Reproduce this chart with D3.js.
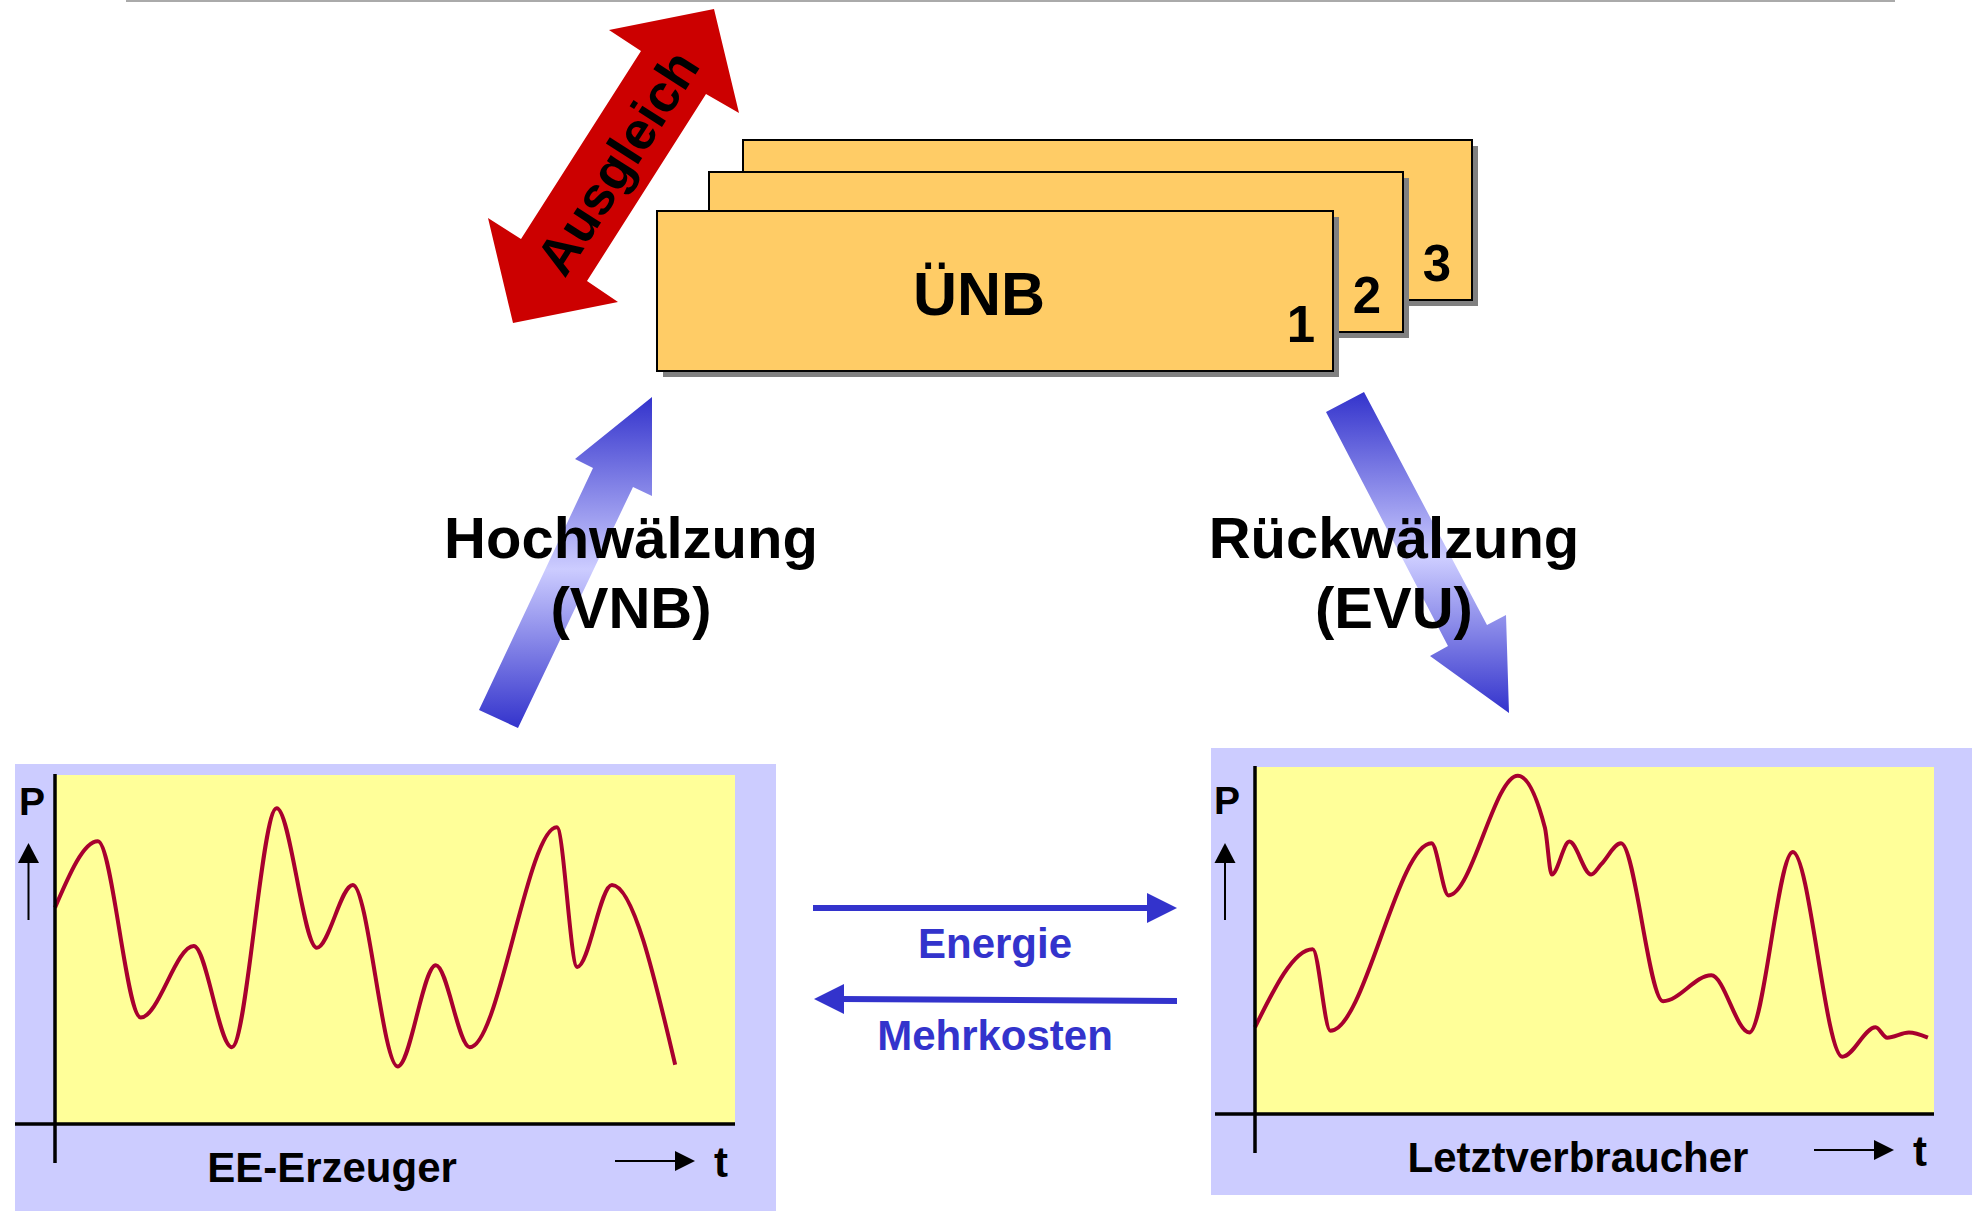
<!DOCTYPE html>
<html>
<head>
<meta charset="utf-8">
<script src="https://cdn.jsdelivr.net/npm/d3@7"></script>
<style>
  body { margin: 0; background: #fff; }
  svg { display: block; }
  text { font-family: "Liberation Sans", Arial, sans-serif; font-weight: bold; }
</style>
</head>
<body>
<div id="chart"></div>
<script>
var svgWidth = 1972;
var svgHeight = 1211;

// generation profile (t and P in % of the plot area)
var genTime  = [0, 6.3, 12.6, 20.4, 26.0, 32.6, 38.5, 43.8, 50.4, 56.0, 61.0, 73.8, 76.8, 81.9, 91.2];
var genPower = [62, 81, 30.5, 51, 22, 90.5, 50.5, 68.5, 16.5, 45.5, 22, 85, 45, 68.5, 17];

// consumer load profile
var loadTime  = [0, 8.5, 11.1, 26.0, 28.5, 38.7, 42.7, 43.7, 46.3, 49.5, 51.0, 53.9, 60.1, 67.2, 72.8, 79.2, 86.5, 91.4, 93.1, 96.3, 99.1];
var loadPower = [25, 47.5, 24, 78, 63, 97.5, 82.5, 69, 78.5, 69, 72, 78, 32.5, 40, 23.5, 75.5, 16.5, 25, 22, 23.5, 22];

var boxNumbers = ["3", "2", "1"];
var boxTitle = "ÜNB";
var panelTitles = ["EE-Erzeuger", "Letztverbraucher"];
var flowLabels = ["Energie", "Mehrkosten"];
var upLabel = ["Hochwälzung", "(VNB)"];
var downLabel = ["Rückwälzung", "(EVU)"];
var balanceLabel = "Ausgleich";

var dark = "#3333cc";
var curveColor = "#a8002e";

var svg = d3.select("#chart")
  .append("svg")
  .attr("width", svgWidth)
  .attr("height", svgHeight);

var defs = svg.append("defs");
var grad = defs.append("linearGradient")
  .attr("id", "blueFade")
  .attr("x1", 0).attr("y1", 0).attr("x2", 0).attr("y2", 1);
grad.append("stop").attr("offset", "0%").attr("stop-color", dark);
grad.append("stop").attr("offset", "52%").attr("stop-color", "#ccccff");
grad.append("stop").attr("offset", "100%").attr("stop-color", dark);

// thin rule at the very top
svg.append("line")
  .attr("x1", 126).attr("x2", 1895)
  .attr("y1", 1).attr("y2", 1)
  .attr("stroke", "#aaaaaa")
  .attr("stroke-width", 2);

var poly = d3.line().curve(d3.curveLinearClosed);

// red double arrow "Ausgleich"
svg.append("path")
  .attr("d", poly([[714, 9], [739, 113], [706, 94], [587, 281], [618, 302], [513, 323],
                   [488, 218], [521, 239], [641, 51], [609, 30]]))
  .attr("fill", "#cc0000");

svg.append("text")
  .attr("transform", "translate(617,162) rotate(-57.4)")
  .attr("text-anchor", "middle")
  .attr("dy", "0.36em")
  .attr("font-size", 53)
  .attr("fill", "#000")
  .text(balanceLabel);

// stacked ÜNB cards
var boxes = [
  { x: 743, y: 140, w: 729, h: 160, nx: 1437, ny: 281 },
  { x: 709, y: 172, w: 694, h: 160, nx: 1367, ny: 313 },
  { x: 657, y: 211, w: 676, h: 160, nx: 1301, ny: 342 }
];

boxes.forEach(function (b, i) {
  svg.append("rect")
    .attr("x", b.x + 6).attr("y", b.y + 6)
    .attr("width", b.w).attr("height", b.h)
    .attr("fill", "#808080");
  svg.append("rect")
    .attr("x", b.x).attr("y", b.y)
    .attr("width", b.w).attr("height", b.h)
    .attr("fill", "#ffcc66")
    .attr("stroke", "#000")
    .attr("stroke-width", 2);
  svg.append("text")
    .attr("x", b.nx).attr("y", b.ny)
    .attr("text-anchor", "middle")
    .attr("font-size", 51)
    .text(boxNumbers[i]);
});

svg.append("text")
  .attr("x", 979).attr("y", 315)
  .attr("text-anchor", "middle")
  .attr("font-size", 61)
  .text(boxTitle);

// blue gradient arrows
svg.append("path")
  .attr("d", poly([[652, 397], [652, 496], [633, 487], [518, 728], [479, 710], [593, 468], [575, 459]]))
  .attr("fill", "url(#blueFade)");

svg.append("path")
  .attr("d", poly([[1364, 392], [1326, 412], [1448, 646], [1430, 656], [1509, 713], [1506, 615], [1487, 625]]))
  .attr("fill", "url(#blueFade)");

function twoLines(lines, cx, y0) {
  lines.forEach(function (s, i) {
    svg.append("text")
      .attr("x", cx).attr("y", y0 + i * 70)
      .attr("text-anchor", "middle")
      .attr("font-size", 58)
      .text(s);
  });
}
twoLines(upLabel, 631, 558);
twoLines(downLabel, 1394, 558);

// panels
var panels = [
  { bg: [15, 764, 776, 1211], x: [55, 735], y: [1124, 775], axisLeft: 15, axisBottom: 1163,
    t: genTime, p: genPower, title: panelTitles[0], titleX: 332, titleY: 1182,
    arrowX: [615, 695], arrowY: 1161, pX: 32, pY: 815, upX: 28.5 },
  { bg: [1211, 748, 1972, 1195], x: [1255, 1934], y: [1114, 767], axisLeft: 1215, axisBottom: 1153,
    t: loadTime, p: loadPower, title: panelTitles[1], titleX: 1578, titleY: 1172,
    arrowX: [1814, 1894], arrowY: 1150, pX: 1227, pY: 814, upX: 1225 }
];

panels.forEach(function (pn) {
  var g = svg.append("g");
  g.append("rect")
    .attr("x", pn.bg[0]).attr("y", pn.bg[1])
    .attr("width", pn.bg[2] - pn.bg[0]).attr("height", pn.bg[3] - pn.bg[1])
    .attr("fill", "#ccccff");

  var x = d3.scaleLinear().domain([0, 100]).range(pn.x);
  var y = d3.scaleLinear().domain([0, 100]).range(pn.y);

  g.append("rect")
    .attr("x", x(0)).attr("y", y(100))
    .attr("width", x(100) - x(0)).attr("height", y(0) - y(100))
    .attr("fill", "#ffff99");

  var pts = pn.t.map(function (t, i) { return [t, pn.p[i]]; });
  g.append("path")
    .datum(pts)
    .attr("fill", "none")
    .attr("stroke", curveColor)
    .attr("stroke-width", 4)
    .attr("d", d3.line()
      .x(function (d) { return x(d[0]); })
      .y(function (d) { return y(d[1]); })
      .curve(d3.curveMonotoneX));

  // axes
  g.append("line")
    .attr("x1", pn.axisLeft).attr("x2", x(100))
    .attr("y1", y(0)).attr("y2", y(0))
    .attr("stroke", "#000").attr("stroke-width", 3.5);
  g.append("line")
    .attr("x1", x(0)).attr("x2", x(0))
    .attr("y1", y(100) - 1).attr("y2", pn.axisBottom)
    .attr("stroke", "#000").attr("stroke-width", 3.5);

  // P with up arrow
  g.append("text")
    .attr("x", pn.pX).attr("y", pn.pY)
    .attr("text-anchor", "middle")
    .attr("font-size", 39)
    .text("P");
  g.append("line")
    .attr("x1", pn.upX).attr("x2", pn.upX)
    .attr("y1", 920).attr("y2", 860)
    .attr("stroke", "#000").attr("stroke-width", 2);
  g.append("path")
    .attr("d", poly([[pn.upX, 843], [pn.upX + 10.5, 863], [pn.upX - 10.5, 863]]))
    .attr("fill", "#000");

  // t arrow
  g.append("line")
    .attr("x1", pn.arrowX[0]).attr("x2", pn.arrowX[1] - 18)
    .attr("y1", pn.arrowY).attr("y2", pn.arrowY)
    .attr("stroke", "#000").attr("stroke-width", 2);
  g.append("path")
    .attr("d", poly([[pn.arrowX[1], pn.arrowY], [pn.arrowX[1] - 20, pn.arrowY - 10], [pn.arrowX[1] - 20, pn.arrowY + 10]]))
    .attr("fill", "#000");
  g.append("text")
    .attr("x", pn.arrowX[1] + 26).attr("y", pn.arrowY + 16)
    .attr("text-anchor", "middle")
    .attr("font-size", 42)
    .text("t");

  g.append("text")
    .attr("x", pn.titleX).attr("y", pn.titleY)
    .attr("text-anchor", "middle")
    .attr("font-size", 42)
    .text(pn.title);
});

// energy / cost flows
svg.append("line")
  .attr("x1", 813).attr("x2", 1150)
  .attr("y1", 908).attr("y2", 908)
  .attr("stroke", dark).attr("stroke-width", 6);
svg.append("path")
  .attr("d", poly([[1177, 908], [1147, 893], [1147, 923]]))
  .attr("fill", dark);

svg.append("line")
  .attr("x1", 1177).attr("x2", 840)
  .attr("y1", 1001).attr("y2", 999)
  .attr("stroke", dark).attr("stroke-width", 6);
svg.append("path")
  .attr("d", poly([[814, 999], [844, 984], [844, 1014]]))
  .attr("fill", dark);

svg.append("text")
  .attr("x", 995).attr("y", 958)
  .attr("text-anchor", "middle")
  .attr("font-size", 42)
  .attr("fill", dark)
  .text(flowLabels[0]);
svg.append("text")
  .attr("x", 995).attr("y", 1050)
  .attr("text-anchor", "middle")
  .attr("font-size", 42)
  .attr("fill", dark)
  .text(flowLabels[1]);
</script>
</body>
</html>
